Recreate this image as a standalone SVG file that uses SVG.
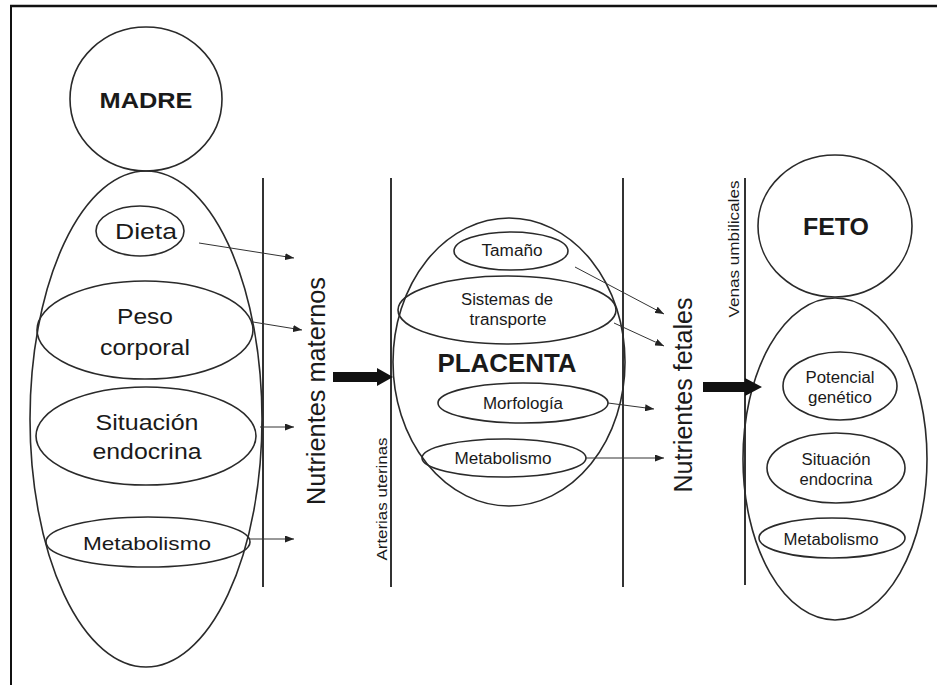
<svg xmlns="http://www.w3.org/2000/svg" width="937" height="685" viewBox="0 0 937 685">
<defs>
<marker id="ah" markerWidth="9" markerHeight="7" refX="9" refY="3.5" orient="auto" markerUnits="userSpaceOnUse">
<path d="M0,0 L9,3.5 L0,7 Z" fill="#222"/>
</marker>
<style>
.o{fill:none;stroke:#2a2a2a;stroke-width:1.6}
.bar{stroke:#333;stroke-width:2}
.t{font-family:"Liberation Sans",Arial,sans-serif;fill:#1a1a1a;text-anchor:middle}
.b{font-weight:bold}
.c{fill:none;stroke:#333;stroke-width:1}
.big{fill:#111;stroke:none}
</style>
</defs>
<rect width="937" height="685" fill="#fff"/>
<g id="frame">
<line x1="10" y1="6" x2="937" y2="6" stroke="#111" stroke-width="2.5"/>
<line x1="11" y1="5" x2="11" y2="685" stroke="#111" stroke-width="2"/>
</g>
<g id="barriers">
<line class="bar" x1="263" y1="178" x2="263" y2="587"/>
<line class="bar" x1="391" y1="178" x2="391" y2="587"/>
<line class="bar" x1="623" y1="178" x2="623" y2="587"/>
<line class="bar" x1="745" y1="178" x2="745" y2="585"/>
</g>
<g id="madre">
<ellipse class="o" cx="146" cy="99" rx="76" ry="72"/>
<text class="t b" x="146" y="108" font-size="22" textLength="93" lengthAdjust="spacingAndGlyphs">MADRE</text>
</g>
<g id="madre-cuerpo">
<ellipse class="o" cx="146" cy="419" rx="116" ry="248"/>
</g>
<g id="m-dieta">
<ellipse class="o" cx="140" cy="231" rx="44" ry="25"/>
<text class="t" x="146" y="239" font-size="22" textLength="62" lengthAdjust="spacingAndGlyphs">Dieta</text>
</g>
<g id="m-peso">
<ellipse class="o" cx="145" cy="330" rx="108" ry="49"/>
<text class="t" x="145" y="324" font-size="22" textLength="56" lengthAdjust="spacingAndGlyphs">Peso</text>
<text class="t" x="145" y="355" font-size="22" textLength="90" lengthAdjust="spacingAndGlyphs">corporal</text>
</g>
<g id="m-endocrina">
<ellipse class="o" cx="146" cy="436" rx="110" ry="49"/>
<text class="t" x="147" y="430" font-size="22" textLength="103" lengthAdjust="spacingAndGlyphs">Situación</text>
<text class="t" x="147" y="459" font-size="22" textLength="109" lengthAdjust="spacingAndGlyphs">endocrina</text>
</g>
<g id="m-metabolismo">
<ellipse class="o" cx="148" cy="542" rx="102" ry="25"/>
<text class="t" x="147" y="550" font-size="19" textLength="128" lengthAdjust="spacingAndGlyphs">Metabolismo</text>
</g>
<g id="placenta">
<ellipse class="o" cx="509" cy="362" rx="116" ry="144"/>
<text class="t b" x="507" y="372" font-size="25" textLength="139" lengthAdjust="spacingAndGlyphs">PLACENTA</text>
</g>
<g id="p-tamano">
<ellipse class="o" cx="511" cy="251" rx="57" ry="19"/>
<text class="t" x="512" y="256" font-size="16" textLength="61" lengthAdjust="spacingAndGlyphs">Tamaño</text>
</g>
<g id="p-transporte">
<ellipse class="o" cx="507" cy="310" rx="109" ry="34"/>
<text class="t" x="507" y="305" font-size="16" textLength="92" lengthAdjust="spacingAndGlyphs">Sistemas de</text>
<text class="t" x="508" y="325" font-size="16" textLength="77" lengthAdjust="spacingAndGlyphs">transporte</text>
</g>
<g id="p-morfologia">
<ellipse class="o" cx="523" cy="403" rx="85" ry="20"/>
<text class="t" x="523" y="409" font-size="16" textLength="80" lengthAdjust="spacingAndGlyphs">Morfología</text>
</g>
<g id="p-metabolismo">
<ellipse class="o" cx="504" cy="458" rx="82" ry="19"/>
<text class="t" x="503" y="464" font-size="16" textLength="97" lengthAdjust="spacingAndGlyphs">Metabolismo</text>
</g>
<g id="feto">
<ellipse class="o" cx="835" cy="226" rx="77" ry="71"/>
<text class="t b" x="836" y="235" font-size="24" textLength="66" lengthAdjust="spacingAndGlyphs">FETO</text>
</g>
<g id="feto-cuerpo">
<ellipse class="o" cx="835" cy="459" rx="92" ry="161"/>
</g>
<g id="f-potencial">
<ellipse class="o" cx="840" cy="386" rx="57" ry="34"/>
<text class="t" x="840" y="383" font-size="16" textLength="69" lengthAdjust="spacingAndGlyphs">Potencial</text>
<text class="t" x="840" y="403" font-size="16" textLength="64" lengthAdjust="spacingAndGlyphs">genético</text>
</g>
<g id="f-endocrina">
<ellipse class="o" cx="836" cy="468" rx="69" ry="35"/>
<text class="t" x="836" y="465" font-size="16" textLength="69" lengthAdjust="spacingAndGlyphs">Situación</text>
<text class="t" x="836" y="485" font-size="16" textLength="73" lengthAdjust="spacingAndGlyphs">endocrina</text>
</g>
<g id="f-metabolismo">
<ellipse class="o" cx="832" cy="538" rx="73" ry="20"/>
<text class="t" x="831" y="545" font-size="16" textLength="95" lengthAdjust="spacingAndGlyphs">Metabolismo</text>
</g>
<g id="labels">
<text class="t" transform="translate(325,391) rotate(-90)" font-size="25" textLength="228" lengthAdjust="spacingAndGlyphs">Nutrientes maternos</text>
<text class="t" transform="translate(692,395) rotate(-90)" font-size="25" textLength="195" lengthAdjust="spacingAndGlyphs">Nutrientes fetales</text>
<text class="t" transform="translate(387,499) rotate(-90)" font-size="15" textLength="123" lengthAdjust="spacingAndGlyphs">Arterias uterinas</text>
<text class="t" transform="translate(739,249) rotate(-90)" font-size="15" textLength="137" lengthAdjust="spacingAndGlyphs">Venas umbilicales</text>
</g>
<g id="connectors">
<line class="c" x1="199" y1="243" x2="294" y2="258" marker-end="url(#ah)"/>
<line class="c" x1="253" y1="322" x2="302" y2="330" marker-end="url(#ah)"/>
<line class="c" x1="260" y1="427" x2="294" y2="427" marker-end="url(#ah)"/>
<line class="c" x1="250" y1="539" x2="294" y2="539" marker-end="url(#ah)"/>
<line class="c" x1="575" y1="267" x2="664" y2="314" marker-end="url(#ah)"/>
<line class="c" x1="614" y1="323" x2="664" y2="346" marker-end="url(#ah)"/>
<line class="c" x1="608" y1="403" x2="654" y2="409" marker-end="url(#ah)"/>
<line class="c" x1="586" y1="458" x2="664" y2="458" marker-end="url(#ah)"/>
<path class="big" d="M333,372 H377 V368 L393,377 L377,386 V382 H333 Z"/>
<path class="big" d="M703,382 H745 V378 L762,387 L745,396 V392 H703 Z"/>
</g>
</svg>
